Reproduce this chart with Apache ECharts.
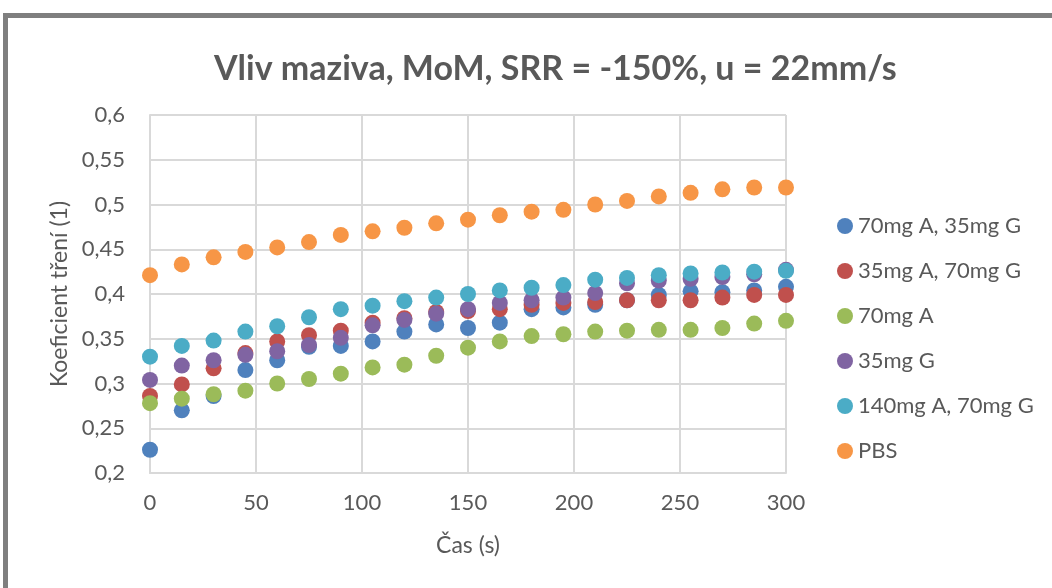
<!DOCTYPE html>
<html>
<head>
<meta charset="utf-8">
<script src="https://cdn.jsdelivr.net/npm/echarts@6/dist/echarts.min.js"></script>
<style>
html,body{margin:0;padding:0;background:#fff;}
#frame{position:absolute;left:3px;top:13px;width:1100px;height:700px;border:5px solid #7f7f7f;border-right:none;border-bottom:none;box-sizing:border-box;}
#chart{position:absolute;left:0;top:0;width:1052px;height:588px;}
</style>
</head>
<body>
<div id="frame"></div>
<div id="chart"></div>
<script>
const times = [0,15,30,45,60,75,90,105,120,135,150,165,180,195,210,225,240,255,270,285,300];
const seriesNames = ['70mg A, 35mg G','35mg A, 70mg G','70mg A','35mg G','140mg A, 70mg G','PBS'];
const s70A35G = [0.226,0.270,0.286,0.315,0.326,0.341,0.342,0.347,0.358,0.366,0.362,0.368,0.383,0.385,0.388,0.393,0.399,0.403,0.402,0.404,0.408];
const s35A70G = [0.286,0.299,0.317,0.334,0.347,0.354,0.359,0.368,0.373,0.380,0.381,0.383,0.388,0.390,0.391,0.393,0.393,0.393,0.396,0.399,0.399];
const s70A = [0.278,0.283,0.288,0.292,0.300,0.305,0.311,0.318,0.321,0.331,0.340,0.347,0.353,0.355,0.358,0.359,0.360,0.360,0.362,0.367,0.370];
const s35G = [0.304,0.320,0.326,0.332,0.336,0.343,0.351,0.365,0.371,0.378,0.383,0.390,0.393,0.396,0.401,0.412,0.415,0.417,0.419,0.422,0.427];
const s140A70G = [0.330,0.342,0.348,0.358,0.364,0.374,0.383,0.387,0.392,0.396,0.400,0.404,0.407,0.410,0.416,0.418,0.421,0.423,0.424,0.425,0.426];
const sPBS = [0.421,0.433,0.441,0.447,0.452,0.458,0.466,0.470,0.474,0.479,0.483,0.488,0.492,0.494,0.500,0.504,0.509,0.513,0.517,0.519,0.519];
const allValues = [s70A35G,s35A70G,s70A,s35G,s140A70G,sPBS];
const colors = ['#4f81bd','#c0504d','#9bbb59','#8064a2','#4bacc6','#f79646'];
const titleText = 'Vliv maziva, MoM, SRR = -150%, u = 22mm/s';
const xName = 'Čas (s)';
const yName = 'Koeficient tření (1)';

const FONT = 'Lato';
const TXT = '#595959';
const chart = echarts.init(document.getElementById('chart'), null, {renderer:'canvas'});
chart.setOption({
  backgroundColor: 'transparent',
  animation: false,
  color: colors,
  title: {
    text: titleText, left: 209, top: 47,
    textStyle: {fontFamily: FONT, fontSize: 34, fontWeight: 'bold', color: TXT}
  },
  legend: {
    orient: 'vertical', left: 832, top: 209,
    icon: 'circle', itemWidth: 16, itemHeight: 16, itemGap: 21,
    textStyle: {fontFamily: FONT, fontSize: 22, color: TXT, lineHeight: 24},
    data: seriesNames
  },
  grid: {left: 150, right: 266, top: 115, bottom: 115, containLabel: false},
  xAxis: {
    type: 'value', min: 0, max: 300, interval: 50,
    name: xName, nameLocation: 'middle', nameGap: 61,
    nameTextStyle: {fontFamily: FONT, fontSize: 23, color: TXT},
    axisLine: {show: true, lineStyle: {color: '#d9d9d9', width: 2}},
    axisTick: {show: false},
    axisLabel: {fontFamily: FONT, fontSize: 22, color: TXT, margin: 19},
    splitLine: {show: true, lineStyle: {color: '#d9d9d9', width: 2}}
  },
  yAxis: {
    type: 'value', min: 0.2, max: 0.6, interval: 0.05,
    name: yName, nameLocation: 'middle', nameGap: 75,
    nameTextStyle: {fontFamily: FONT, fontSize: 23, color: TXT},
    axisLine: {show: true, lineStyle: {color: '#d9d9d9', width: 2}},
    axisTick: {show: false},
    axisLabel: {fontFamily: FONT, fontSize: 22, color: TXT, margin: 25,
      formatter: v => String(Math.round(v*100)/100).replace('.', ',')},
    splitLine: {show: true, lineStyle: {color: '#d9d9d9', width: 2}}
  },
  series: seriesNames.map((n, i) => ({
    name: n, type: 'scatter', symbol: 'circle', symbolSize: 16,
    data: times.map((t, j) => [t, allValues[i][j]]),
    itemStyle: {color: colors[i], opacity: 1}
  }))
});
</script>
</body>
</html>
